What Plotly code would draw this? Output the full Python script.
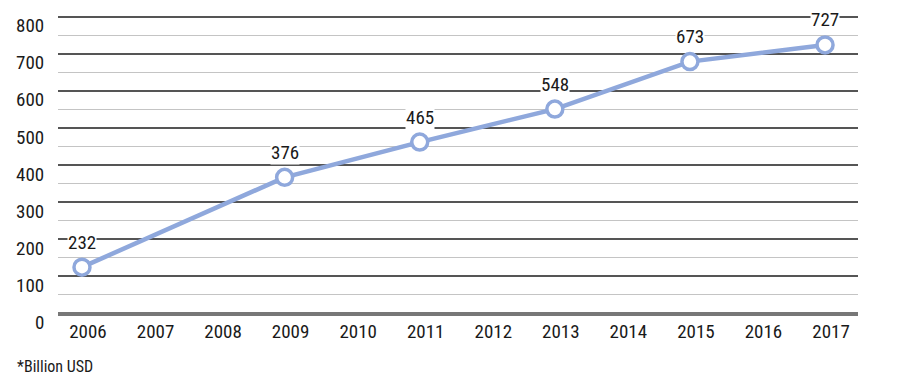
import plotly.graph_objects as go

# ---- data ----
years = [2006, 2009, 2011, 2013, 2015, 2017]
label_values = [232, 376, 465, 548, 673, 727]          # printed data labels
plotted_values = [125, 367, 462, 551, 679, 724]        # vertical position of markers as drawn
tick_years = list(range(2006, 2018))
y_ticks = list(range(0, 801, 100))
note = "*Billion USD"

FONT = "Liberation Sans Narrow, Roboto Condensed, DejaVu Sans Condensed, Roboto, sans-serif"
LINE_COLOR = "#8fa8dc"
TEXT_COLOR = "#1a1a1a"

fig = go.Figure()
fig.add_trace(go.Scatter(
    x=years, y=plotted_values, mode="lines+markers",
    line=dict(color=LINE_COLOR, width=4.5),
    marker=dict(size=16, color="white", line=dict(color=LINE_COLOR, width=3.5)),
    hoverinfo="skip", showlegend=False, cliponaxis=False,
))

for x, y, lab in zip(years, plotted_values, label_values):
    fig.add_annotation(
        x=x, y=y, text=str(lab), showarrow=False, yshift=25,
        font=dict(family=FONT, size=19, color=TEXT_COLOR),
        bgcolor="white", borderpad=0,
    )

# y-axis labels (drawn slightly below their grid lines, as in the original)
for v in y_ticks:
    fig.add_annotation(
        xref="paper", yref="y", x=0, y=v, xanchor="right", yanchor="middle",
        xshift=-12, yshift=-9, text=str(v), showarrow=False,
        font=dict(family=FONT, size=19, color=TEXT_COLOR),
    )

fig.add_annotation(
    xref="paper", yref="paper", x=-0.05375, y=-0.161, xanchor="left", yanchor="middle",
    text=note, showarrow=False, font=dict(family=FONT, size=16, color=TEXT_COLOR),
)

fig.update_layout(
    width=900, height=382,
    margin=dict(l=50, r=50, t=6, b=72),
    paper_bgcolor="white", plot_bgcolor="white",
    font=dict(family=FONT, size=19, color=TEXT_COLOR),
    xaxis=dict(
        range=[2005.645, 2017.488], tickmode="array", tickvals=tick_years,
        ticktext=[str(t) for t in tick_years], showgrid=False, zeroline=False,
        showline=False, ticks="", ticklabelshift=6, ticklabelstandoff=0,
        automargin=False,
        tickfont=dict(family=FONT, size=19, color=TEXT_COLOR),
    ),
    yaxis=dict(
        range=[-12.1, 807.3], tickmode="array", tickvals=y_ticks,
        showticklabels=False, automargin=False,
        showgrid=True, gridcolor="#555555", gridwidth=1.5,
        minor=dict(dtick=50, tick0=0, showgrid=True, gridcolor="#c4c4c4", gridwidth=1.3),
        zeroline=True, zerolinecolor="#777777", zerolinewidth=3.5,
        showline=False, ticks="",
    ),
)

fig.write_html("out.html")
